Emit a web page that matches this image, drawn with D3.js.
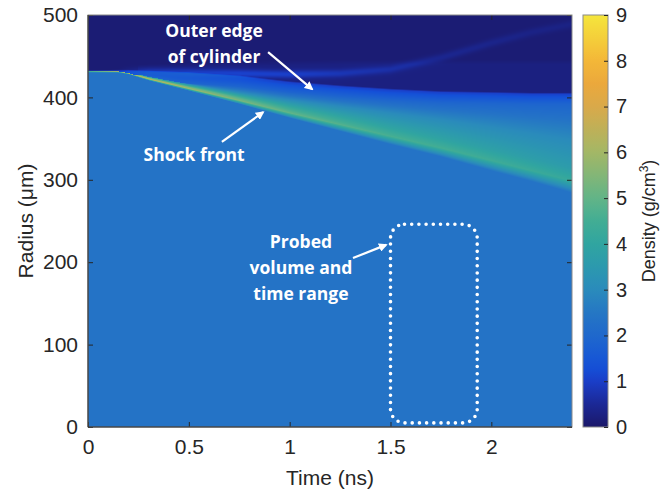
<!DOCTYPE html>
<html>
<head>
<meta charset="utf-8">
<script src="https://cdn.jsdelivr.net/npm/d3@7"></script>
<style>
  html, body { margin: 0; padding: 0; background: #fff; }
  svg { display: block; font-family: "Liberation Sans", Arial, sans-serif; }
</style>
</head>
<body>
<svg id="chart" width="670" height="491"></svg>
<script>
// ---- density field, sampled along time (ns) ----
const times      = [0,   0.15, 0.2, 0.3, 0.5, 0.75, 1.0, 1.25, 1.5, 1.75, 2.0, 2.2, 2.4];
// radius (µm) of the shock front (inner edge of compressed shell)
const shockR     = [431, 431,  429, 422, 410, 395,  379, 364,  349, 334,  318, 305, 292];
// softness (µm) of the front's inner edge
const frontSoft  = [1,   1,    1,   1.5, 2,   3,    4,   5,    6,    6,    7,   7,   8];
// peak density (g/cm³) right behind the shock front
const shellPeak  = [4.5, 6.0,  6.8, 6.5, 5.9, 5.4,  5.0, 4.8,  4.6,  4.5,  4.4, 4.3, 4.2];
// radial thickness (µm) of the dense part of the shell
const shellWidth = [0.5, 1,    2,   3,   6,   11,   18,  25,   32,   39,   46,  51,  56];
// radius (µm) where the blue outer layer ends
const layerTopR  = [431.5, 432, 432, 431, 429, 425, 418, 413,  409,  406,  405, 404, 404];
// radius (µm) where the faint halo ends
const haloTopR   = [432, 432,  433, 434, 436, 438,  439, 440,  440,  440,  440, 440, 440];
// faint streak marking the outer edge of the cylinder
const edgeR      = [431, 431,  431, 431, 430, 429,  428, 429,  434,  448,  466, 479, 489];
const edgeRho    = [0,   0,    0.2, 0.5, 0.7, 0.8,  0.75, 0.55, 0.4, 0.3,  0.25, 0.2, 0.18];
const bulkRho = 2.4, vacuumRho = 0.12, haloRho = 0.26;

// ---- axes ----
const timeTicks    = [0, 0.5, 1, 1.5, 2];
const radiusTicks  = [0, 100, 200, 300, 400, 500];
const densityTicks = [0, 1, 2, 3, 4, 5, 6, 7, 8, 9];

// ---- colour map (density → colour) ----
const cmapStops  = [0, 0.5, 1, 1.3, 1.7, 2, 2.4, 3, 3.5, 4, 4.5, 5, 6, 7, 7.5, 8, 9];
const cmapColors = ["#1b1869", "#1b2896", "#1a3ec8", "#1450d8", "#1a5ed2", "#1f68cc", "#2473c6",
                    "#2a8bbb", "#2c99ae", "#30a5a0", "#42ad94", "#62b487", "#a3b766", "#d9a94a",
                    "#eba83c", "#f3b738", "#f5e63c"];

// ---- probed window ----
const probeTime   = [1.5, 1.93];
const probeRadius = [5, 246];

const svg = d3.select("#chart");
const x = d3.scaleLinear().domain([0, 2.4]).range([88, 572]);
const y = d3.scaleLinear().domain([0, 500]).range([427, 15]);
const cbY = d3.scaleLinear().domain([0, 9]).range([427, 15]);
const color = d3.scaleLinear().domain(cmapStops).range(cmapColors).clamp(true);

const along = arr => d3.scaleLinear().domain(times).range(arr).clamp(true);
const fShock = along(shockR), fSoft = along(frontSoft), fPeak = along(shellPeak), fWidth = along(shellWidth),
      fLayer = along(layerTopR), fHalo = along(haloTopR), fEdgeR = along(edgeR), fEdgeA = along(edgeRho);

// piecewise-linear radial profile through knots [r, rho]
function profile(r, knots) {
  if (r <= knots[0][0]) return knots[0][1];
  for (let i = 0; i < knots.length - 1; i++) {
    const a = knots[i], b = knots[i + 1];
    if (r < b[0]) {
      if (b[0] <= a[0]) continue;
      return a[1] + (b[1] - a[1]) * (r - a[0]) / (b[0] - a[0]);
    }
  }
  return knots[knots.length - 1][1];
}

// ---- heatmap ----
const x0 = x.range()[0], x1 = x.range()[1], y0 = y.range()[1], y1 = y.range()[0];
const pw = x1 - x0, ph = y1 - y0;
const canvas = document.createElement("canvas");
canvas.width = pw; canvas.height = ph;
const ctx = canvas.getContext("2d");
const img = ctx.createImageData(pw, ph);
for (let i = 0; i < pw; i++) {
  const t = x.invert(x0 + i + 0.5);
  const front = fShock(t), soft = fSoft(t), peak = fPeak(t), w = fWidth(t),
        top = fLayer(t), halo = fHalo(t), eR = fEdgeR(t), eA = fEdgeA(t);
  const k = [];
  const sEnd = Math.min(front + w, top - 4);
  const hasLayer = top - sEnd > 2;
  k.push([front - soft, bulkRho]);
  if (w > 4) {
    k.push([front + 0.12 * w, peak]);
    k.push([front + 0.4 * w, peak - 0.6]);
    k.push([sEnd, 3.0]);
  } else {
    k.push([front + 0.5, peak]);
    k.push([sEnd, peak * 0.6]);
  }
  let r = Math.max(sEnd, top - 12);
  k.push([r, hasLayer ? 1.9 : vacuumRho]);
  r = Math.max(r, top - 4);
  k.push([r, hasLayer ? 1.35 : vacuumRho]);
  r = Math.max(r, top);
  k.push([r, hasLayer ? 1.05 : vacuumRho]);
  const hasHalo = halo > r + 2;
  k.push([r + 2, hasHalo ? haloRho : vacuumRho]);
  const hEnd = Math.max(r + 2, halo);
  k.push([hEnd, hasHalo ? haloRho : vacuumRho]);
  k.push([hEnd + 6, vacuumRho]);
  for (let j = 0; j < ph; j++) {
    const rr = y.invert(y0 + j + 0.5);
    let rho = profile(rr, k);
    if (rr > sEnd) rho += eA * Math.exp(-((rr - eR) ** 2) / (2 * 3.5 * 3.5));
    const c = d3.rgb(color(rho));
    const o = (j * pw + i) * 4;
    img.data[o] = c.r; img.data[o + 1] = c.g; img.data[o + 2] = c.b; img.data[o + 3] = 255;
  }
}
ctx.putImageData(img, 0, 0);
svg.append("image")
  .attr("x", x0).attr("y", y0).attr("width", pw).attr("height", ph)
  .attr("preserveAspectRatio", "none")
  .attr("href", canvas.toDataURL());

// ---- axes ----
const axisColor = "#262626";
const fmt = d3.format("~g");
function styleAxis(g, showText) {
  g.selectAll(".domain").remove();
  g.selectAll(".tick line").attr("stroke", axisColor).attr("stroke-width", 1);
  g.selectAll(".tick text").attr("fill", axisColor).style("font-size", "21px")
    .style("font-family", '"Liberation Sans", Arial, sans-serif');
  if (!showText) g.selectAll(".tick text").remove();
}
svg.append("g").attr("transform", `translate(0,${y1})`)
  .call(d3.axisBottom(x).tickValues(timeTicks).tickFormat(fmt).tickSize(-5).tickPadding(12))
  .call(g => styleAxis(g, true));
svg.append("g").attr("transform", `translate(0,${y0})`)
  .call(d3.axisTop(x).tickValues(timeTicks).tickSize(-5))
  .call(g => styleAxis(g, false));
svg.append("g").attr("transform", `translate(${x0},0)`)
  .call(d3.axisLeft(y).tickValues(radiusTicks).tickFormat(fmt).tickSize(-5).tickPadding(10))
  .call(g => styleAxis(g, true));
svg.append("g").attr("transform", `translate(${x1},0)`)
  .call(d3.axisRight(y).tickValues(radiusTicks).tickSize(-5))
  .call(g => styleAxis(g, false));
svg.append("rect").attr("x", x0).attr("y", y0).attr("width", pw).attr("height", ph)
  .attr("fill", "none").attr("stroke", "#8a8a8a").attr("stroke-width", 1);
svg.append("line").attr("x1", x0).attr("x2", x0).attr("y1", y0).attr("y2", y1)
  .attr("stroke", axisColor).attr("stroke-width", 1);
svg.append("line").attr("x1", x0).attr("x2", x1).attr("y1", y1).attr("y2", y1)
  .attr("stroke", axisColor).attr("stroke-width", 1);

svg.append("text").attr("x", (x0 + x1) / 2).attr("y", 485)
  .attr("text-anchor", "middle").attr("fill", axisColor).style("font-size", "21px")
  .text("Time (ns)");
svg.append("text").attr("transform", `translate(33,${(y0 + y1) / 2}) rotate(-90)`)
  .attr("text-anchor", "middle").attr("fill", axisColor).style("font-size", "21px")
  .text("Radius (μm)");

// ---- colour bar ----
const cbX = 583, cbW = 25;
const grad = svg.append("defs").append("linearGradient").attr("id", "cbGrad")
  .attr("x1", 0).attr("y1", 1).attr("x2", 0).attr("y2", 0);
d3.range(0, 9.001, 0.25).forEach(v => {
  grad.append("stop").attr("offset", v / 9).attr("stop-color", color(v));
});
svg.append("rect").attr("x", cbX).attr("y", cbY(9)).attr("width", cbW).attr("height", cbY(0) - cbY(9))
  .attr("fill", "url(#cbGrad)").attr("stroke", "#8a8a8a").attr("stroke-width", 1);
svg.append("g").attr("transform", `translate(${cbX + cbW},0)`)
  .call(d3.axisRight(cbY).tickValues(densityTicks).tickFormat(fmt).tickSize(-4).tickPadding(8))
  .call(g => styleAxis(g, true))
  .call(g => g.selectAll(".tick text").style("font-size", "20px"));
const cbLabel = svg.append("text").attr("transform", `translate(655,${(cbY(0) + cbY(9)) / 2}) rotate(-90)`)
  .attr("text-anchor", "middle").attr("fill", axisColor).style("font-size", "18px");
cbLabel.append("tspan").text("Density (g/cm");
cbLabel.append("tspan").attr("dy", -7).style("font-size", "12px").text("3");
cbLabel.append("tspan").attr("dy", 7).text(")");

// ---- annotations ----
const defs = svg.select("defs");
defs.append("marker").attr("id", "head").attr("viewBox", "0 0 10 10")
  .attr("refX", 8).attr("refY", 5).attr("markerWidth", 4).attr("markerHeight", 4)
  .attr("markerUnits", "strokeWidth").attr("orient", "auto")
  .append("path").attr("d", "M0,0 L10,5 L0,10 z").attr("fill", "#fff");

// "at" = [time, radius] of the first text baseline
const notes = [
  { lines: ["Outer edge", "of cylinder"], at: [0.625, 473.3], from: [0.893, 455], to: [1.111, 410] },
  { lines: ["Shock front"], at: [0.526, 322.8], from: [0.664, 346], to: [0.868, 382] },
  { lines: ["Probed", "volume and", "time range"], at: [1.056, 217.2], from: [1.314, 205], to: [1.478, 221] }
];
notes.forEach(n => {
  svg.append("line")
    .attr("x1", x(n.from[0])).attr("y1", y(n.from[1]))
    .attr("x2", x(n.to[0])).attr("y2", y(n.to[1]))
    .attr("stroke", "#fff").attr("stroke-width", 2.2).attr("marker-end", "url(#head)");
  const t = svg.append("text").attr("text-anchor", "middle").attr("fill", "#fff")
    .style("font-family", '"Open Sans", Lato, sans-serif').style("font-weight", 700)
    .style("font-size", "17.5px");
  n.lines.forEach((s, i) => {
    t.append("tspan").attr("x", x(n.at[0])).attr("y", y(n.at[1]) + i * 26).text(s);
  });
});

// probed window outline
svg.append("rect")
  .attr("x", x(probeTime[0])).attr("y", y(probeRadius[1]))
  .attr("width", x(probeTime[1]) - x(probeTime[0]))
  .attr("height", y(probeRadius[0]) - y(probeRadius[1]))
  .attr("rx", 14).attr("ry", 14)
  .attr("fill", "none").attr("stroke", "#fff").attr("stroke-width", 3.6)
  .attr("stroke-linecap", "round").attr("stroke-dasharray", "0 7.2");
</script>
</body>
</html>
